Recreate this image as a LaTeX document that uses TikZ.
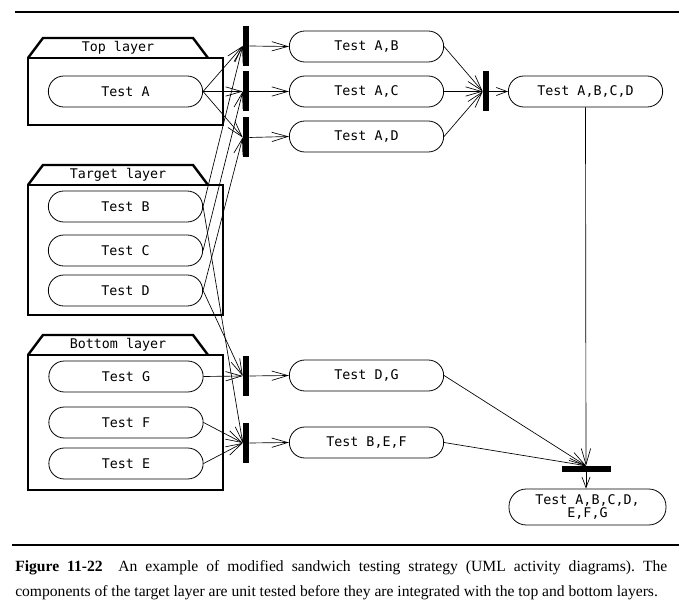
\documentclass[tikz,border=0pt]{standalone}
\usepackage{fontspec}
\setmainfont{Liberation Serif}
\newfontfamily\testfont{DejaVu Sans Mono}
\usetikzlibrary{shapes.misc,arrows.meta}

\begin{document}
\begin{tikzpicture}[x=0.75pt,y=-0.75pt,
    test/.style={rounded rectangle, draw, line width=0.6pt, minimum width=117.75pt, minimum height=23.25pt, inner sep=1pt, font=\testfont},
    bar/.style={fill=black, inner sep=0pt, minimum width=4.5pt, minimum height=30pt},
    flow/.style={line width=0.5pt, -{Straight Barb[length=12pt,width=7pt]}},
    short/.style={line width=0.5pt, -{Straight Barb[length=8pt,width=6pt]}},
    layer/.style={line width=1.8pt}]
    \useasboundingbox (0,0) rectangle (679,602);
    \draw[line width=1.8pt] (15,12) -- (679,12);
    \draw[line width=2pt] (12,545) -- (679,545);
    % the three layers
    \foreach \ya/\yb/\name in {38/125/Top layer, 165/315/Target layer, 335/490/Bottom layer} {
        \draw[layer, line join=miter] (28,{\ya+20}) -- (43,\ya) -- (193,\ya) -- (208,{\ya+20});
        \draw[layer] (28,{\ya+20}) rectangle (223,\yb);
        \node[font=\testfont] (lbl\ya) at (118,{\ya+10}) {\name};
    }
    \node[test] (tA) at (125.5,91.5) {Test A};
    \node[test] (tB) at (125.5,206.5) {Test B};
    \node[test] (tC) at (125.5,250.5) {Test C};
    \node[test] (tD) at (125.5,290.5) {Test D};
    \node[test] (tG) at (126,376.5) {Test G};
    \node[test] (tF) at (126,422.5) {Test F};
    \node[test] (tE) at (126,463.5) {Test E};
    % joins
    \node[bar] (j1) at (246,46) {};
    \node[bar] (j2) at (246,91.5) {};
    \node[bar] (j3) at (246,137.5) {};
    \node[bar] (j4) at (246,376) {};
    \node[bar] (j5) at (246,443) {};
    \node[bar] (j6) at (486,91.5) {};
    \node[bar, minimum width=36.75pt, minimum height=4.5pt] (j7) at (586,469) {};
    \node[test] (tAB) at (366.5,46.5) {Test A,B};
    \node[test] (tAC) at (366.5,91.5) {Test A,C};
    \node[test] (tAD) at (366.5,136.5) {Test A,D};
    \node[test] (tDG) at (366.5,375.5) {Test D,G};
    \node[test] (tBEF) at (366.5,442.5) {Test B,E,F};
    \node[test] (tABCD) at (585.5,91.5) {Test A,B,C,D};
    \node[draw, line width=0.6pt, rounded corners=13pt, minimum width=117.75pt, minimum height=27pt, inner sep=1pt, align=center, font=\testfont] (tAll) at (587.5,507) {Test A,B,C,D,\\[-2pt]E,F,G};
    \foreach \from/\to in {tA/j1, tA/j2, tA/j3, tB/j1, tC/j2, tD/j3, tD/j4, tB/j5, tG/j4, tF/j5, tE/j5}
        \draw[flow] (\from.east) -- (\to.west);
    \foreach \from/\to in {j1/tAB, j2/tAC, j3/tAD, j4/tDG, j5/tBEF, tAB/j6, tAC/j6, tAD/j6}
        \draw[flow] (\from.east) -- (\to.west);
    \foreach \from/\to in {tDG.east/j7, tBEF.east/j7, tABCD.south/j7}
        \draw[flow] (\from) -- (\to.north);
    \draw[short] (j6.east) -- (tABCD.west);
    \draw[short] (j7.south) -- (j7.south |- tAll.north);
    \node[anchor=north west, text width=489pt, align=justify, inner sep=0pt, font=\fontsize{11.7}{18.75}\selectfont\frenchspacing] (caption) at (15,560)
        {\textbf{Figure 11-22}\hspace{1em}An example of modified sandwich testing strategy (UML activity diagrams). The\linebreak components of the target layer are unit tested before they are integrated with the top and bottom layers.};
\end{tikzpicture}
\end{document}
